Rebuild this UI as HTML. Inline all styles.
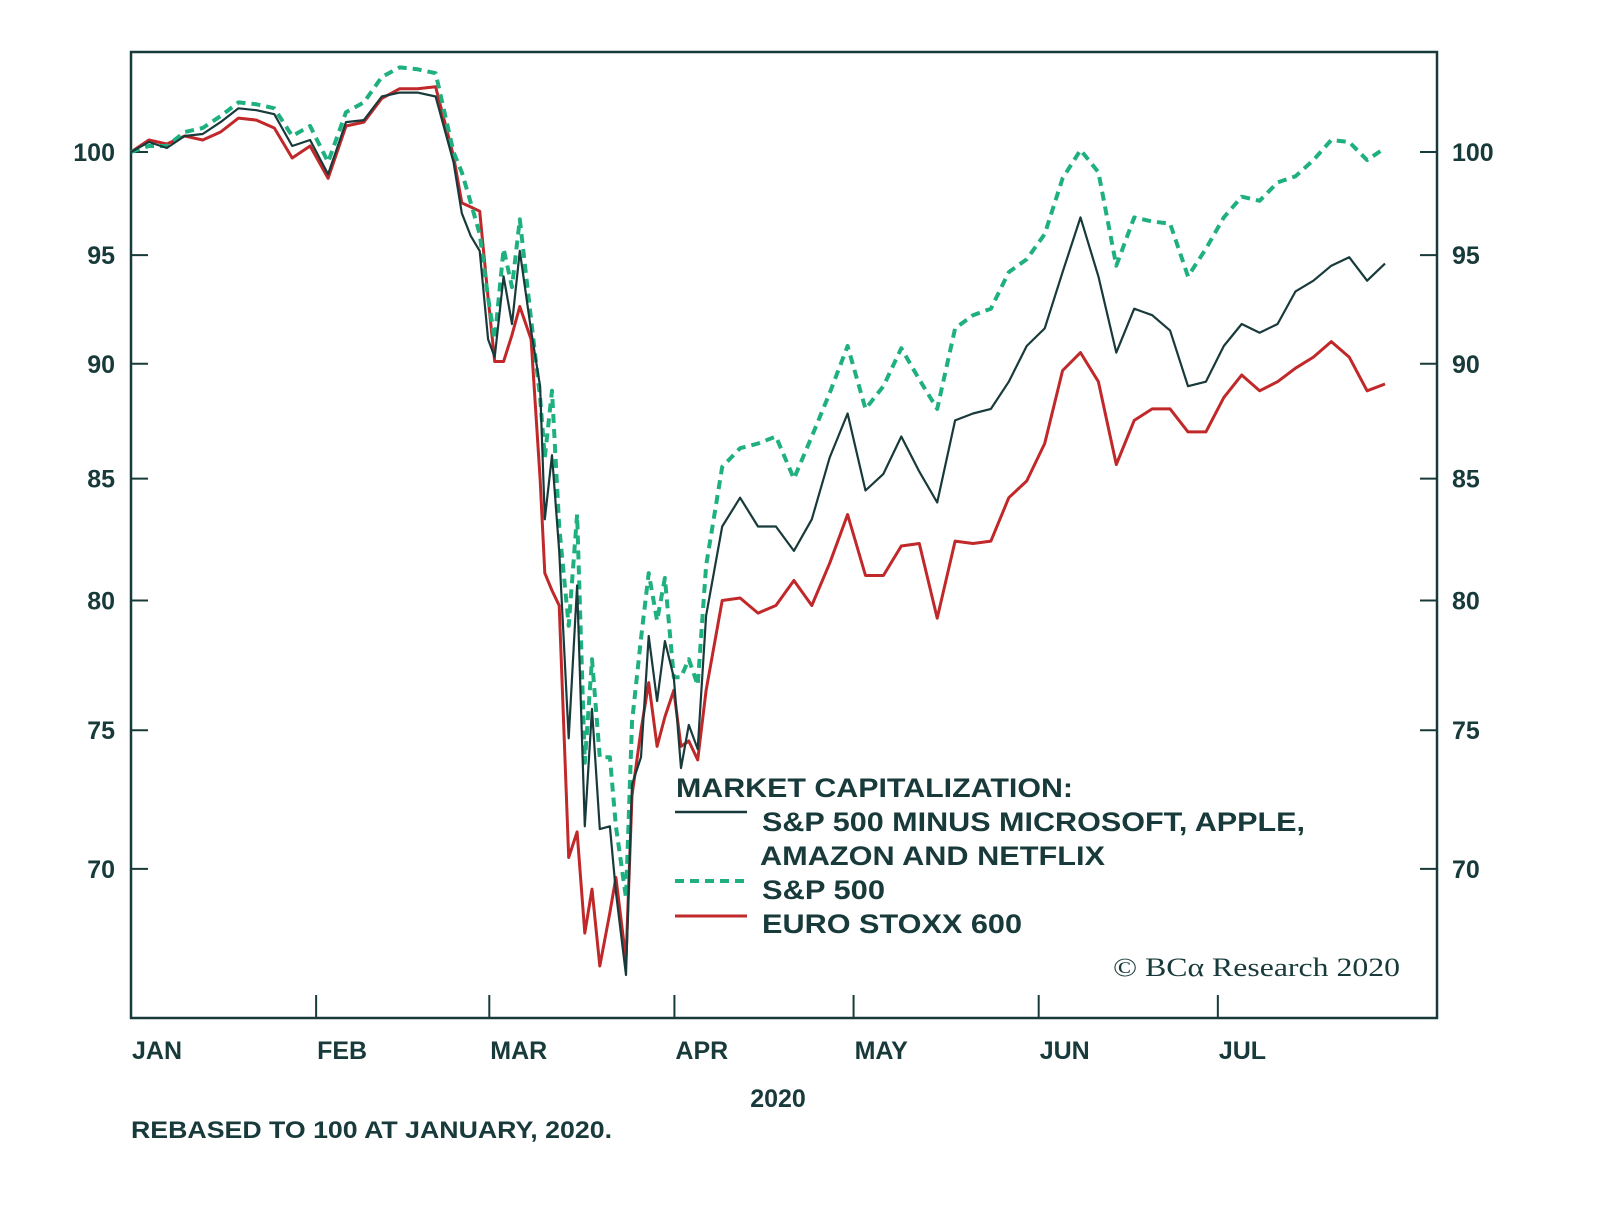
<!DOCTYPE html>
<html><head><meta charset="utf-8"><style>
body{margin:0;background:#fff;width:1600px;height:1218px;overflow:hidden}
svg text{font-family:"Liberation Sans",sans-serif;fill:#183a3a}
</style></head><body>
<svg id="chart" width="1600" height="1218" viewBox="0 0 1600 1218" xmlns="http://www.w3.org/2000/svg">
<rect x="131" y="52" width="1306" height="966" fill="none" stroke="#183a3a" stroke-width="2.5"/>
<g id="axes"></g>
<g id="series"></g>
<g font-weight="bold">
<text x="676" y="797" font-size="27" textLength="397" lengthAdjust="spacingAndGlyphs">MARKET CAPITALIZATION:</text>
<line x1="675" y1="812" x2="747" y2="812" stroke="#183a3a" stroke-width="2.5"/>
<text x="762" y="831" font-size="27" textLength="543" lengthAdjust="spacingAndGlyphs">S&amp;P 500 MINUS MICROSOFT, APPLE,</text>
<text x="760" y="865" font-size="27" textLength="345" lengthAdjust="spacingAndGlyphs">AMAZON AND NETFLIX</text>
<line x1="675" y1="881" x2="747" y2="881" stroke="#1fb080" stroke-width="4" stroke-dasharray="9,6"/>
<text x="762" y="899" font-size="27" textLength="123" lengthAdjust="spacingAndGlyphs">S&amp;P 500</text>
<line x1="675" y1="916" x2="747" y2="916" stroke="#c0282a" stroke-width="3"/>
<text x="762" y="933" font-size="27" textLength="260" lengthAdjust="spacingAndGlyphs">EURO STOXX 600</text>
</g>
<text x="1113" y="976" font-size="26" textLength="287" lengthAdjust="spacingAndGlyphs" style="font-family:'Liberation Serif',serif">© BCα Research 2020</text>
<text x="778" y="1107" font-size="25" font-weight="bold" text-anchor="middle">2020</text>
<text x="131" y="1138" font-size="24" font-weight="bold" textLength="481" lengthAdjust="spacingAndGlyphs">REBASED TO 100 AT JANUARY, 2020.</text>
</svg>
<script>
const daysJan=[0,3,6,9,12,15,18,21,24,27,30,33,36,39,42,45,48,51,54];
const daysMar=[55.4,56.9,58.4,59.8,60.9,62.4,63.8,65.1,67.0,68.5,69.3,70.5,71.7,73.3,74.7,76.0,77.2,78.5,80.2,81.2,82.9,83.9,85.4,86.7,88.1,89.4,90.9,92.1,93.4,94.9,96.3];
const daysLate=[99,102,105,108,111,114,117,120,123,126,129,132,135,138,141,144,147,150,153,156,159,162,165,168,171,174,177,180,183,186,189,192,195,198,201,204,207,210];
const days=daysJan.concat(daysMar,daysLate);
const sp500=[100,100.3,100.3,101.0,101.2,101.8,102.5,102.4,102.2,100.8,101.3,99.5,102,102.5,103.8,104.3,104.2,104.0,100,
 99,97.5,96,93,91.1,95.3,93.5,96.7,92,88.5,85.9,88.8,83,79,83.5,73.8,77.7,74.0,74.0,71.5,69,75.3,78.5,81.1,79.2,80.9,77.0,77.0,77.7,76.7,81.4,
 85.5,86.3,86.5,86.8,85,86.8,88.7,90.8,88,89,90.7,89.3,88,91.6,92.2,92.5,94.2,94.8,96,98.7,100.1,99,94.5,96.8,96.6,96.5,94,95.3,96.8,97.8,97.6,98.5,98.8,99.6,100.6,100.5,99.6,100.2];
const exFaang=[100,100.5,100.2,100.8,100.9,101.5,102.2,102.1,101.9,100.3,100.6,98.9,101.5,101.6,102.8,103.0,103.0,102.8,99.5,
 97,95.9,95.2,91.1,90.3,94.0,91.8,95.2,91.5,89,83.3,86,82,74.7,80.6,71.5,75.8,71.4,71.5,69.2,66.4,73.0,74.0,78.6,76.1,78.4,77.0,73.6,75.2,74.3,79.4,
 83,84.2,83,83,82,83.3,85.9,87.8,84.5,85.2,86.8,85.3,84,87.5,87.8,88,89.2,90.8,91.6,94.2,96.8,94,90.5,92.5,92.2,91.5,89,89.2,90.8,91.8,91.4,91.8,93.3,93.8,94.5,94.9,93.8,94.6];
const euro=[100,100.6,100.4,100.8,100.6,101.0,101.7,101.6,101.2,99.7,100.3,98.7,101.3,101.5,102.7,103.2,103.2,103.3,99.8,
 97.5,97.3,97.1,93,90.1,90.1,91.3,92.6,91.1,85,81.1,80.4,79.8,70.4,71.3,67.8,69.3,66.7,68.5,69.7,66.9,72.6,75,76.8,74.4,75.5,76.5,74.4,74.6,73.9,76.5,
 80,80.1,79.5,79.8,80.8,79.8,81.5,83.5,81,81,82.2,82.3,79.3,82.4,82.3,82.4,84.2,84.9,86.5,89.7,90.5,89.2,85.6,87.5,88,88,87,87,88.5,89.5,88.8,89.2,89.8,90.3,91,90.3,88.8,89.1];
const yTicks=[100,95,90,85,80,75,70];
const monthLabels=["JAN","FEB","MAR","APR","MAY","JUN","JUL"];
const monthStart=[0,31,60,91,121,152,182];
const X=d=>131+d*(1306/218.7);
const Y=v=>152+2010*Math.log(100/v);
const NS="http://www.w3.org/2000/svg";
const ax=document.getElementById('axes'),sg=document.getElementById('series');
function mk(tag,attrs,parent){const e=document.createElementNS(NS,tag);for(const k in attrs)e.setAttribute(k,attrs[k]);parent.appendChild(e);return e;}
yTicks.forEach(v=>{const y=Y(v);
 let t=mk('line',{x1:131,x2:148,y1:y,y2:y,stroke:'#183a3a','stroke-width':2},ax);
 
 
 t=mk('line',{x1:1420,x2:1437,y1:y,y2:y,stroke:'#183a3a','stroke-width':2},ax);
 
 
 let l=mk('text',{x:115,y:y+9,'font-size':25,'font-weight':'bold','text-anchor':'end'},ax);l.textContent=v;
 
 
 l=mk('text',{x:1452,y:y+9,'font-size':25,'font-weight':'bold'},ax);l.textContent=v;
 
 
});
monthLabels.forEach((m,i)=>{const x=X(monthStart[i]);
 const t=mk('line',{x1:x,x2:x,y1:995,y2:1018,stroke:'#183a3a','stroke-width':2},ax);
 
 
 const l=mk('text',{x:x+1,y:1059,'font-size':25,'font-weight':'bold'},ax);l.textContent=m;
 
 
});
function line(vals,st,name){const p=vals.map((v,i)=>X(days[i]).toFixed(1)+','+Y(v).toFixed(1)).join(' ');
 const e=mk('polyline',Object.assign({points:p,fill:'none','stroke-linejoin':'round'},st),sg);
 
 }
line(euro,{stroke:'#c0282a','stroke-width':3},'euro-stoxx-600-line');
line(sp500,{stroke:'#1fb080','stroke-width':4,'stroke-dasharray':'9,6'},'sp500-line');
line(exFaang,{stroke:'#183a3a','stroke-width':2.2},'sp500-ex-faang-line');
</script>
</body></html>
